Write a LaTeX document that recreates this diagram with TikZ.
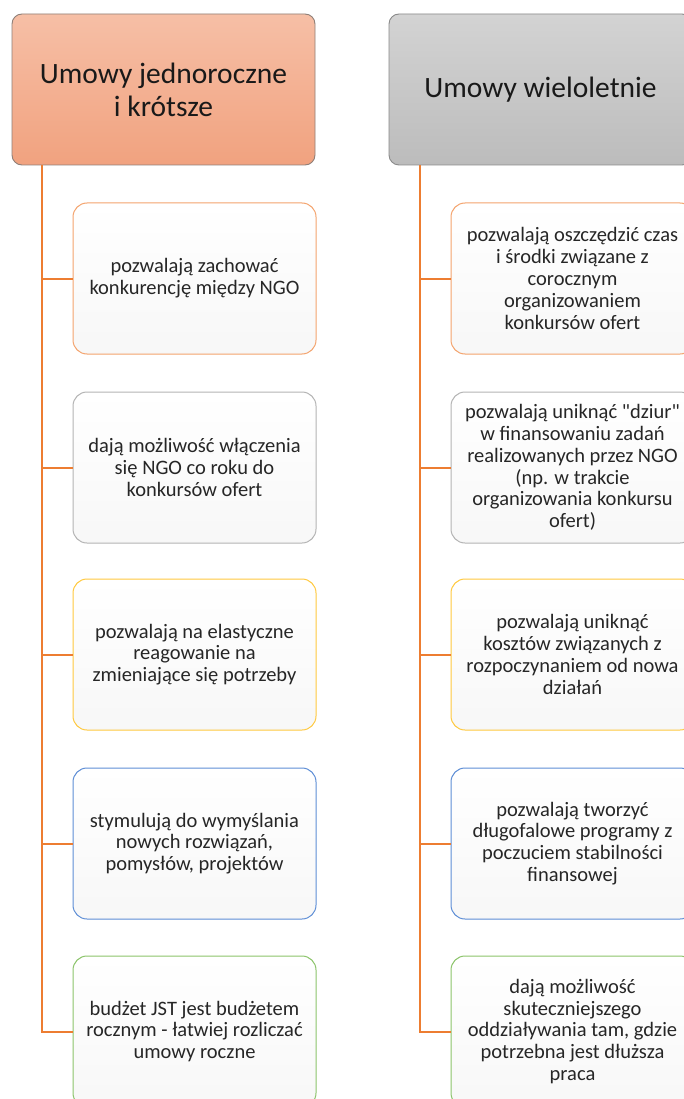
\documentclass[tikz,border=0pt]{standalone}
\usepackage{fontspec}
\setmainfont{Carlito}[Ligatures=TeXOff]
\definecolor{conn}{HTML}{ED7D31}
\definecolor{hdrAtop}{HTML}{F6BFA6}
\definecolor{hdrAbot}{HTML}{F1A27F}
\definecolor{hdrAline}{HTML}{8F7F77}
\definecolor{hdrBtop}{HTML}{D3D3D3}
\definecolor{hdrBbot}{HTML}{BCBCBC}
\definecolor{hdrBline}{HTML}{8A8A8A}
\definecolor{cOrange}{HTML}{F4A46E}
\definecolor{cGray}{HTML}{B4B4B4}
\definecolor{cYellow}{HTML}{FFC93F}
\definecolor{cBlue}{HTML}{5E8ED6}
\definecolor{cGreen}{HTML}{8CC46B}
\definecolor{txt}{HTML}{262626}
\tikzset{
  header/.style={draw, line width=0.9pt, rounded corners=10pt,
    minimum width=303pt, minimum height=151pt, align=center,
    font=\fontsize{29.5}{33}\selectfont, text=black!90, inner sep=0pt},
  itembox/.style={draw=#1, line width=1pt, rounded corners=14pt,
    top color=white, bottom color=white!97!black,
    minimum width=243pt, minimum height=151pt, align=center,
    font=\fontsize{20.5}{21.8}\selectfont, text=txt, inner sep=0pt},
  link/.style={draw=conn, line width=2pt}
}
\begin{document}
\begin{tikzpicture}[x=1pt,y=-1pt]
\useasboundingbox (0,0) rectangle (684,1099);
\clip (0,0) rectangle (684,1099);
\fill[white] (0,0) rectangle (684,1099);

% column headers
\node[header, draw=hdrAline, top color=hdrAtop, bottom color=hdrAbot] (hA) at (163.5,89.5)
  {Umowy jednoroczne\\i krótsze};
\node[header, draw=hdrBline, top color=hdrBtop, bottom color=hdrBbot] (hB) at (540.5,89.5)
  {Umowy wieloletnie};

% branch lines
\coordinate (rA) at ([xshift=30pt]hA.south west);
\coordinate (rB) at ([xshift=31pt]hB.south west);

% left column
\node[itembox=cOrange] (a1) at (194.5,278.5) {pozwalają zachować\\konkurencję między NGO};
\node[itembox=cGray]   (a2) at (194.5,467.5) {dają możliwość włączenia\\się NGO co roku do\\konkursów ofert};
\node[itembox=cYellow] (a3) at (194.5,654.5) {pozwalają na elastyczne\\reagowanie na\\zmieniające się potrzeby};
\node[itembox=cBlue]   (a4) at (194.5,843.5) {stymulują do wymyślania\\nowych rozwiązań,\\pomysłów, projektów};
\node[itembox=cGreen]  (a5) at (194.5,1031.5) {budżet JST jest budżetem\\rocznym - łatwiej rozliczać\\umowy roczne};

% right column
\node[itembox=cOrange] (b1) at (572.5,278.5) {pozwalają oszczędzić czas\\i środki związane z\\corocznym\\organizowaniem\\konkursów ofert};
\node[itembox=cGray]   (b2) at (572.5,467.5) {pozwalają uniknąć "dziur"\\w finansowaniu zadań\\realizowanych przez NGO\\(np. w trakcie\\organizowania konkursu\\ofert)};
\node[itembox=cYellow] (b3) at (572.5,654.5) {pozwalają uniknąć\\kosztów związanych z\\rozpoczynaniem od nowa\\działań};
\node[itembox=cBlue]   (b4) at (572.5,843.5) {pozwalają tworzyć\\długofalowe programy z\\poczuciem stabilności\\finansowej};
\node[itembox=cGreen]  (b5) at (572.5,1031.5) {dają możliwość\\skuteczniejszego\\oddziaływania tam, gdzie\\potrzebna jest dłuższa\\praca};

\foreach \k in {1,...,5} {
  \draw[link] (rA) |- (a\k.west);
  \draw[link] (rB) |- (b\k.west);
}
\end{tikzpicture}
\end{document}
